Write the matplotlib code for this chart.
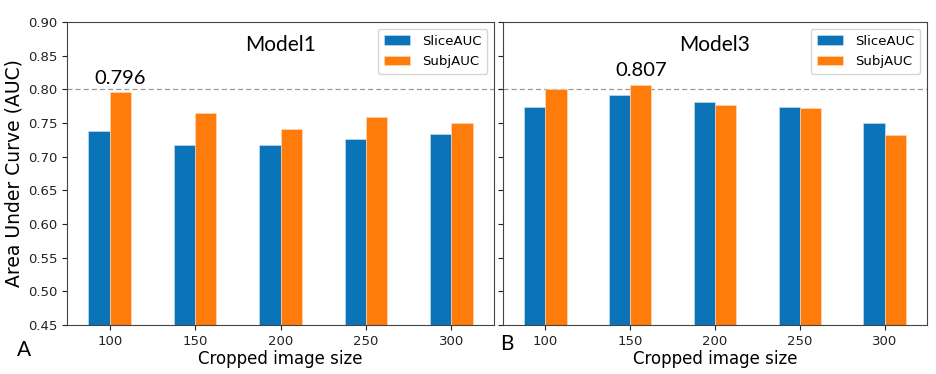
import matplotlib
matplotlib.use("Agg")
import matplotlib.pyplot as plt
import numpy as np

sizes = ["100", "150", "200", "250", "300"]
model1_slice = [0.738, 0.717, 0.718, 0.726, 0.734]
model1_subj = [0.796, 0.765, 0.741, 0.759, 0.750]
model3_slice = [0.774, 0.791, 0.781, 0.774, 0.750]
model3_subj = [0.800, 0.807, 0.777, 0.772, 0.732]
series_names = ["SliceAUC", "SubjAUC"]
yticks = [0.45, 0.50, 0.55, 0.60, 0.65, 0.70, 0.75, 0.80, 0.85, 0.90]

blue = "#0b73b7"
orange = "#ff7b0c"
title_font = "Lato"

fig = plt.figure(figsize=(9.36, 3.74), dpi=100)
ax1 = fig.add_axes([67/936, 1-325/374, 427/936, 303/374])
ax2 = fig.add_axes([503/936, 1-325/374, 424/936, 303/374])

x = np.arange(len(sizes))
w = 0.25
for ax, sl, sb, name, best in [(ax1, model1_slice, model1_subj, "Model1", 0),
                               (ax2, model3_slice, model3_subj, "Model3", 1)]:
    ax.bar(x - w/2, sl, width=w, color=blue, edgecolor="#cfe3f2", linewidth=0.4, label=series_names[0])
    ax.bar(x + w/2, sb, width=w, color=orange, edgecolor="#ffe0c0", linewidth=0.4, label=series_names[1])
    ax.set_xlim(-0.5, 4.5)
    ax.set_ylim(0.45, 0.90)
    ax.set_yticks(yticks)
    ax.set_xticks(x)
    ax.set_xticklabels(sizes, fontsize=9.5)
    ax.set_xlabel("Cropped image size", fontsize=12, labelpad=2)
    for s in ax.spines.values():
        s.set_color("#444444")
    ax.tick_params(colors="#222222", labelsize=9.5)
    leg = ax.legend(loc="upper right", fontsize=9.5, frameon=True, handlelength=2.0,
                    borderpad=0.45, labelspacing=0.55, handletextpad=0.9)
    ax.text(0.5, 0.957, name, transform=ax.transAxes, ha="center", va="top",
            fontsize=15, family=title_font)
    ax.text(best + w/2, sb[best] + 0.008, f"{sb[best]:.3f}", ha="center", va="bottom",
            fontsize=14.5, family=title_font)

ax1.axhline(0.80, xmin=0, xmax=(503-67)/427, color="#999999", linestyle="--",
            linewidth=0.9, dashes=(4, 2.5), clip_on=False, zorder=0.5)
ax2.axhline(0.80, color="#999999", linestyle="--", linewidth=0.9, dashes=(4, 2.5), zorder=0.5)

ax1.set_yticklabels([f"{v:.2f}" for v in yticks])
ax1.set_ylabel("Area Under Curve (AUC)", fontsize=13.5, labelpad=3)
ax2.set_yticklabels([])

fig.text(17/936, 1-350/374, "A", fontsize=15, family=title_font, va="center")
fig.text(500/936, 1-344/374, "B", fontsize=15, family=title_font, va="center")

fig.savefig("out.png", dpi=100)
